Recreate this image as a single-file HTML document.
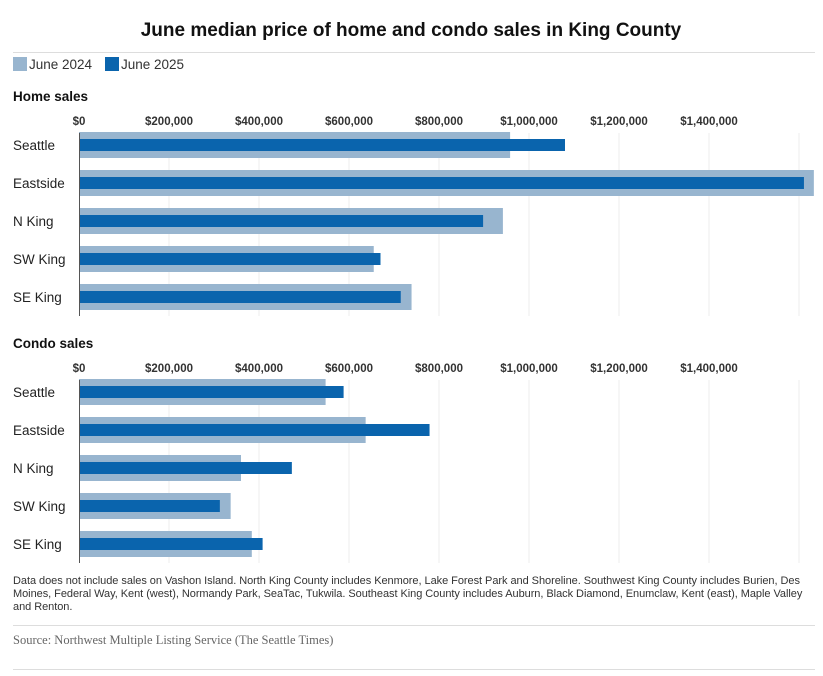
<!DOCTYPE html>
<html><head><meta charset="utf-8"><style>
body{margin:0;background:#fff;width:823px;height:671px;overflow:hidden;font-family:"Liberation Sans",sans-serif}
svg text{font-family:"Liberation Sans",sans-serif}
</style></head><body>
<svg id="c" width="823" height="671">
<text x="411" y="36" text-anchor="middle" font-size="19" font-weight="bold" fill="#111">June median price of home and condo sales in King County</text>
<line x1="13" x2="815" y1="52.5" y2="52.5" stroke="#ddd"/>
<g>
<rect x="13" y="57" width="14" height="14" fill="#98b5cf"/>
<text x="29" y="69" font-size="13.5" fill="#333">June 2024</text>
<rect x="105" y="57" width="14" height="14" fill="#0a64ad"/>
<text x="121" y="69" font-size="13.5" fill="#333">June 2025</text>
</g>
<g id="panels"></g>
<foreignObject x="13" y="575" width="810" height="48"><div xmlns="http://www.w3.org/1999/xhtml" style="font-family:'Liberation Sans',sans-serif;font-size:11px;line-height:12.8px;color:#333;letter-spacing:-0.05px">Data does not include sales on Vashon Island. North King County includes Kenmore, Lake Forest Park and Shoreline. Southwest King County includes Burien, Des Moines, Federal Way, Kent (west), Normandy Park, SeaTac, Tukwila. Southeast King County includes Auburn, Black Diamond, Enumclaw, Kent (east), Maple Valley and Renton.</div></foreignObject>
<line x1="13" x2="815" y1="625.5" y2="625.5" stroke="#ddd"/>
<text x="13" y="644" font-size="12.5" fill="#666" style="font-family:'Liberation Serif',serif">Source: Northwest Multiple Listing Service (The Seattle Times)</text>
<line x1="13" x2="815" y1="669.5" y2="669.5" stroke="#ddd"/>
</svg>
<script>
const categories=["Seattle","Eastside","N King","SW King","SE King"];
const home2024=[958000,1633000,942000,655000,739000];
const home2025=[1080000,1611000,898000,670000,715000];
const condo2024=[548000,637000,360000,337000,384000];
const condo2025=[588000,779000,473000,313000,408000];
const tickValues=[0,200000,400000,600000,800000,1000000,1200000,1400000,1600000];
const tickLabels=["$0","$200,000","$400,000","$600,000","$800,000","$1,000,000","$1,200,000","$1,400,000",""];
const NS="http://www.w3.org/2000/svg";
const x=v=>79+v*0.00045;
const g=document.getElementById("panels");
function mk(t,a,p){const e=document.createElementNS(NS,t);for(const k in a)e.setAttribute(k,a[k]);(p||g).appendChild(e);return e;}
function panel(title,top,a,b,key){
  const grp=mk("g",{});
  
  
  const tt=mk("text",{x:13,y:top,"font-size":13.5,"font-weight":"bold",fill:"#111"},grp);tt.textContent=title;
  
  
  const y0=top+22,y1=top+215;
  tickValues.forEach((v,i)=>{
    if(i>0){const l=mk("line",{x1:x(v),x2:x(v),y1:y0+10,y2:y1,stroke:"#ececec"},grp);
    
    }
    if(tickLabels[i]){const t=mk("text",{x:x(v),y:y0+2,"text-anchor":"middle","font-size":11.5,"font-weight":"bold",fill:"#333"},grp);t.textContent=tickLabels[i];
    
    }
  });
  categories.forEach((c,i)=>{
    const cy=top+44+i*38;
    const lb=mk("text",{x:13,y:cy+5,"font-size":13.5,fill:"#222"},grp);lb.textContent=c;
    
    
    const r1=mk("rect",{x:x(0),y:cy-13,width:x(a[i])-x(0),height:26,fill:"#98b5cf"},grp);
    
    
    const r2=mk("rect",{x:x(0),y:cy-6,width:x(b[i])-x(0),height:12,fill:"#0a64ad"},grp);
    
    
  });
  const ax=mk("line",{x1:79.5,x2:79.5,y1:y0+10,y2:y1,stroke:"#555"},grp);
  
  
}
panel("Home sales",101,home2024,home2025,"home");
panel("Condo sales",348,condo2024,condo2025,"condo");
</script>
</body></html>
